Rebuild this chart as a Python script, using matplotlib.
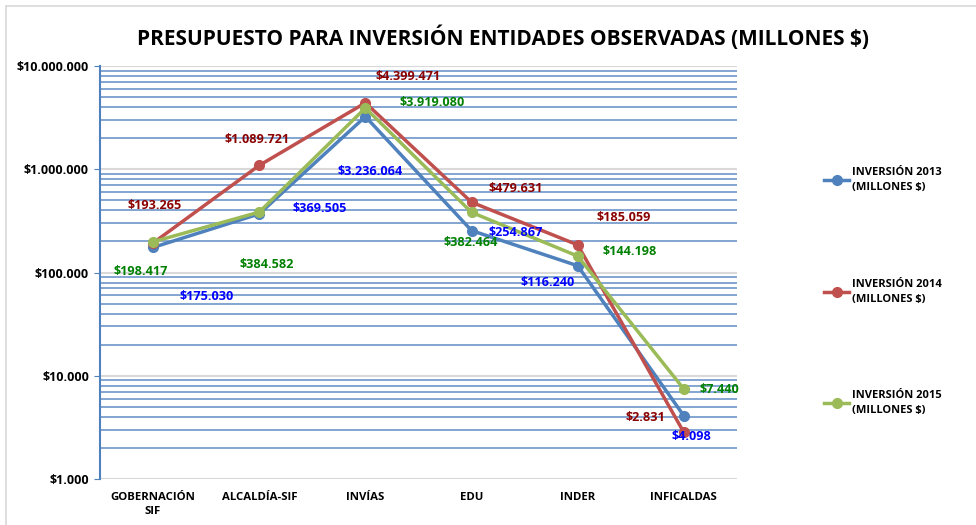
import matplotlib
matplotlib.use("Agg")
import matplotlib.pyplot as plt
from matplotlib.ticker import FixedLocator, LogLocator, FuncFormatter, NullFormatter
from matplotlib.lines import Line2D

plt.rcParams['font.family'] = ['Open Sans', 'DejaVu Sans']
plt.rcParams['font.weight'] = 'bold'

# Data (millions of pesos)
categories = ['GOBERNACIÓN\nSIF', 'ALCALDÍA-SIF', 'INVÍAS', 'EDU', 'INDER', 'INFICALDAS']
inv_2013 = [175030, 369505, 3236064, 254867, 116240, 4098]
inv_2014 = [193265, 1089721, 4399471, 479631, 185059, 2831]
inv_2015 = [198417, 384582, 3919080, 382464, 144198, 7440]
series_names = ['INVERSIÓN 2013\n(MILLONES $)', 'INVERSIÓN 2014\n(MILLONES $)', 'INVERSIÓN 2015\n(MILLONES $)']
y_ticks = [1e3, 1e4, 1e5, 1e6, 1e7]

line_colors = ['#4F81BD', '#C0504D', '#9BBB59']
label_colors = ['#0000FF', '#8B0000', '#008000']

# label offsets (pixels) from each point, picked to match the reference layout
offsets = [
    [(54, -49), (60, 5), (5, -55), (44, -2), (-30, -17), (8, -21)],
    [(2, 37), (-2, 26), (43, 26), (44, 14), (46, 27), (-38, 15)],
    [(-12, -30), (7, -52), (67, 5), (-1, -30), (52, 5), (36, 0)],
]


def pesos(v, pos=None):
    return '$' + f'{int(round(v)):,}'.replace(',', '.')


fig = plt.figure(figsize=(9.76, 5.25), dpi=100)
ax = fig.add_axes([0.1025, 0.0876, 0.6525, 0.7867])

x = list(range(len(categories)))
all_series = [inv_2013, inv_2014, inv_2015]
handles = []
for i, vals in enumerate(all_series):
    h, = ax.plot(x, vals, color=line_colors[i], lw=2.5, marker='o', ms=7,
                 zorder=3 + i, label=series_names[i])
    handles.append(h)
    for j, v in enumerate(vals):
        ax.annotate(pesos(v), xy=(j, v), xytext=offsets[i][j], textcoords='offset pixels',
                    ha='center', va='center', fontsize=9.1, fontweight='bold',
                    color=label_colors[i], zorder=10)

ax.set_yscale('log')
ax.set_ylim(1e3, 1e7)
ax.set_xlim(-0.5, len(categories) - 0.5)
ax.yaxis.set_major_locator(FixedLocator(y_ticks))
ax.yaxis.set_major_formatter(FuncFormatter(pesos))
ax.yaxis.set_minor_locator(LogLocator(base=10, subs=range(2, 10)))
ax.yaxis.set_minor_formatter(NullFormatter())

ax.grid(which='major', axis='y', color='#D9D9D9', lw=1.5, zorder=0)
ax.grid(which='minor', axis='y', color='#4F81BD', lw=1.1, alpha=0.9, zorder=0)
ax.set_axisbelow(True)

for s in ['top', 'right', 'bottom']:
    ax.spines[s].set_visible(False)
ax.spines['left'].set_color('#4F81BD')
ax.spines['left'].set_linewidth(1.5)

ax.set_xticks(x)
ax.set_xticklabels(categories, fontsize=8.2, fontweight='bold', linespacing=1.45)
ax.tick_params(axis='x', length=0, pad=9)
ax.tick_params(axis='y', which='major', labelsize=9, length=4, color='#4F81BD', pad=4)
ax.tick_params(axis='y', which='minor', length=0)

fig.text(0.515, 0.929, 'PRESUPUESTO PARA INVERSIÓN ENTIDADES OBSERVADAS (MILLONES $)',
         ha='center', va='center', fontsize=15, fontweight='bold')

leg = fig.legend(handles=handles, loc='upper left', bbox_to_anchor=(0.840, 0.690),
                 frameon=False, fontsize=8, labelspacing=7.7, handlelength=2.2,
                 handletextpad=0.3, borderaxespad=0)
for t in leg.get_texts():
    t.set_linespacing(1.5)

# chart-area frame (left and top edges visible in the reference)
fig.add_artist(Line2D([6 / 976, 6 / 976], [0, 1 - 6 / 525], transform=fig.transFigure,
                      color='#D9D9D9', lw=1.2))
fig.add_artist(Line2D([6 / 976, 1], [1 - 6 / 525, 1 - 6 / 525], transform=fig.transFigure,
                      color='#D9D9D9', lw=1.2))

fig.savefig('out.png', dpi=100)
